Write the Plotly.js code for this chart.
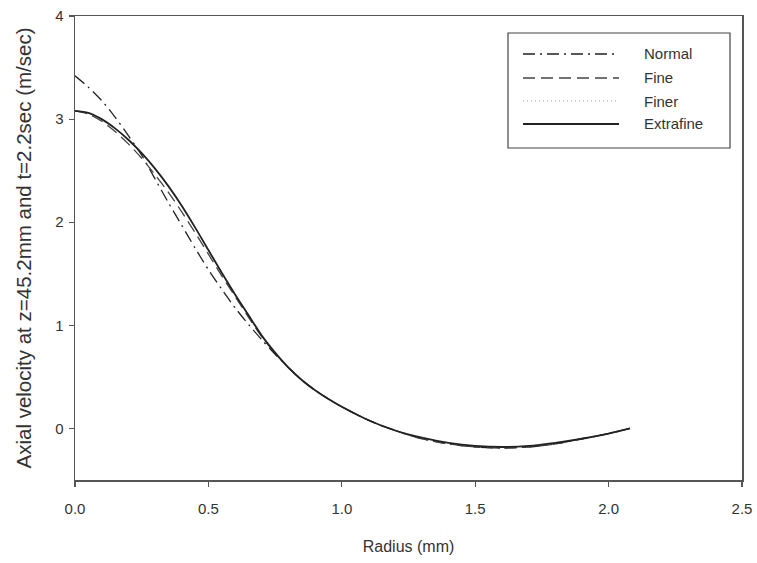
<!DOCTYPE html>
<html>
<head>
<meta charset="utf-8">
<script src="https://cdn.plot.ly/plotly-3.0.1.min.js"></script>
<style>html,body{margin:0;padding:0;background:#fff;}#chart{width:757px;height:563px;}</style>
</head>
<body>
<div id="chart"></div>
<script>
const radius = [0,0.05,0.1,0.15,0.2,0.25,0.3,0.35,0.4,0.45,0.5,0.55,0.6,0.65,0.7,0.75,0.8,0.85,0.9,0.95,1.0,1.1,1.2,1.3,1.4,1.5,1.6,1.7,1.8,1.9,2.0,2.08];
const normal =    [3.42,3.31,3.18,3.02,2.84,2.65,2.42,2.19,1.97,1.75,1.54,1.35,1.17,1.01,0.86,0.72,0.59,0.47,0.37,0.285,0.21,0.08,-0.02,-0.10,-0.15,-0.18,-0.19,-0.18,-0.15,-0.10,-0.05,0.00];
const fine =      [3.08,3.05,2.98,2.88,2.76,2.62,2.46,2.29,2.10,1.90,1.69,1.48,1.28,1.08,0.89,0.73,0.59,0.47,0.37,0.285,0.21,0.08,-0.02,-0.10,-0.15,-0.18,-0.19,-0.18,-0.15,-0.10,-0.05,0.00];
const finer =     [3.08,3.06,3.00,2.91,2.80,2.67,2.52,2.35,2.16,1.95,1.73,1.51,1.30,1.10,0.90,0.735,0.59,0.47,0.37,0.285,0.21,0.08,-0.02,-0.09,-0.14,-0.17,-0.18,-0.17,-0.14,-0.10,-0.05,0.00];
const extrafine = [3.08,3.06,3.00,2.91,2.80,2.67,2.52,2.35,2.16,1.95,1.73,1.51,1.30,1.10,0.90,0.735,0.59,0.47,0.37,0.285,0.21,0.08,-0.02,-0.09,-0.14,-0.17,-0.18,-0.17,-0.14,-0.10,-0.05,0.00];
const seriesNames = ['Normal','Fine','Finer','Extrafine'];
const xTicks = [0,0.5,1.0,1.5,2.0,2.5];
const yTicks = [0,1,2,3,4];

const FONT = 'Liberation Sans, Arial, sans-serif';
const styles = [
  {color:'#222', width:1.3, dash:'12px,5px,2px,5px'},
  {color:'#444', width:1.3, dash:'12px,6px'},
  {color:'#999', width:1.0, dash:'1px,3px'},
  {color:'#222', width:1.8, dash:'solid'}
];
const seriesY = [normal, fine, finer, extrafine];
const traces = seriesY.map((ys,i)=>({
  x: radius, y: ys, type:'scatter', mode:'lines', name: seriesNames[i],
  line: Object.assign({shape:'spline', smoothing:0.8}, styles[i]), showlegend:false
}));

// hand-drawn legend (long sample lines as in the reference)
const legX0 = (508-75)/667, legX1 = (730-75)/667;
const legY0 = 1-(33-16)/464, legY1 = 1-(148-16)/464;
const shapes = [{type:'rect', xref:'paper', yref:'paper', x0:legX0, x1:legX1, y0:legY0, y1:legY1,
  line:{color:'#444', width:1.2}, fillcolor:'rgba(0,0,0,0)'}];
const annotations = [];
const legRows = [54, 78, 101, 124];
seriesNames.forEach((n,i)=>{
  const yp = 1-(legRows[i]-16)/464;
  shapes.push({type:'line', xref:'paper', yref:'paper', x0:(523-75)/667, x1:(619-75)/667, y0:yp, y1:yp,
    line:{color:styles[i].color, width:styles[i].width, dash:styles[i].dash}});
  annotations.push({xref:'paper', yref:'paper', x:(642-75)/667, y:yp, xanchor:'left', yanchor:'middle',
    text:n, showarrow:false, font:{family:FONT, size:15, color:'#333'}});
});

const axisCommon = {
  showline:true, mirror:true, linecolor:'#555', linewidth:1.5, showgrid:false, zeroline:false,
  ticks:'outside', ticklen:5, tickcolor:'#555', tickwidth:1.2,
  tickfont:{family:FONT, size:15, color:'#333'}
};
const layout = {
  width:757, height:563,
  margin:{l:75, r:15, t:16, b:83},
  paper_bgcolor:'#fff', plot_bgcolor:'#fff',
  xaxis: Object.assign({}, axisCommon, {range:[0,2.5], tickvals:xTicks, tickformat:'.1f', ticklabelstandoff:9,
    title:{text:'Radius (mm)', font:{family:FONT, size:16, color:'#333'}, standoff:25}}),
  yaxis: Object.assign({}, axisCommon, {range:[-0.5,4], tickvals:yTicks, ticklabelstandoff:2,
    title:{text:'Axial velocity at z=45.2mm and t=2.2sec (m/sec)', font:{family:FONT, size:20.5, color:'#333'}, standoff:18}}),
  shapes: shapes, annotations: annotations, showlegend:false
};
Plotly.newPlot('chart', traces, layout, {staticPlot:true, displayModeBar:false});
</script>
</body>
</html>
